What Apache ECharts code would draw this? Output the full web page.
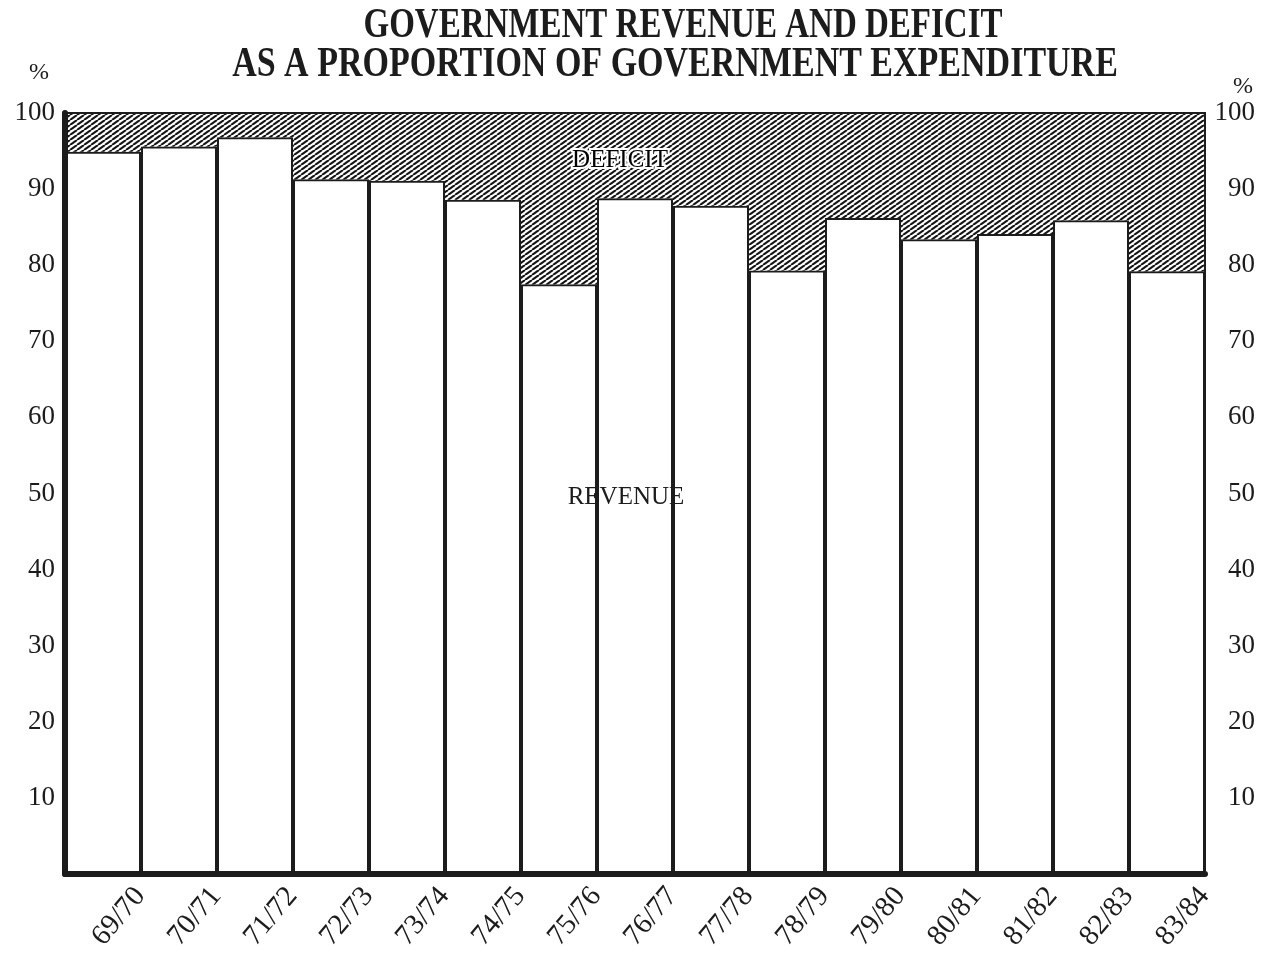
<!DOCTYPE html>
<html><head><meta charset="utf-8">
<script src="https://cdn.jsdelivr.net/npm/echarts@6/dist/echarts.min.js"></script>
<style>html,body{margin:0;padding:0;background:#fff}#c{width:1262px;height:964px}</style>
</head><body><div id="c"></div>
<script>
const years = ['69/70','70/71','71/72','72/73','73/74','74/75','75/76','76/77','77/78','78/79','79/80','80/81','81/82','82/83','83/84'];
const revenue = [94.9, 95.6, 96.8, 91.3, 91.1, 88.6, 77.5, 88.8, 87.8, 79.3, 86.2, 83.4, 84.1, 85.9, 79.2];
const deficit = [5.1, 4.4, 3.2, 8.7, 8.9, 11.4, 22.5, 11.2, 12.2, 20.7, 13.8, 16.6, 15.9, 14.1, 20.8];
const titleLines = ['GOVERNMENT REVENUE AND DEFICIT', 'AS A PROPORTION OF GOVERNMENT EXPENDITURE'];

const INK = '#1c1c1c';
const SERIF = '"Liberation Serif", "DejaVu Serif", serif';

function hatch() {
  const w = 7, h = 5;
  const c = document.createElement('canvas');
  c.width = w; c.height = h;
  const g = c.getContext('2d');
  g.fillStyle = '#ffffff'; g.fillRect(0, 0, w, h);
  g.strokeStyle = '#141414'; g.lineWidth = 2.1;
  for (const o of [-w, 0, w]) { g.beginPath(); g.moveTo(o, h); g.lineTo(o + w, 0); g.stroke(); }
  return c;
}

const chart = echarts.init(document.getElementById('c'), null, {renderer: 'canvas'});
chart.setOption({
  backgroundColor: '#ffffff',
  animation: false,
  grid: {left: 65, right: 57, top: 113, bottom: 90, show: true, borderColor: INK, borderWidth: 2, backgroundColor: 'transparent', z: 3},
  xAxis: {
    type: 'category', data: years, z: 5,
    axisLine: {lineStyle: {color: INK, width: 6}},
    axisTick: {show: false},
    axisLabel: {interval: 0, rotate: 50, margin: -14, verticalAlign: 'top', padding: [34, 0, 0, 0],
      fontFamily: SERIF, fontSize: 29, color: INK}
  },
  yAxis: [{
    type: 'value', min: 0, max: 100, interval: 10, position: 'left', z: 5,
    name: '%', nameLocation: 'end', nameGap: 28,
    nameTextStyle: {fontFamily: SERIF, fontSize: 24, color: INK, align: 'right', padding: [0, 16, 0, 0]},
    axisLine: {show: true, lineStyle: {color: INK, width: 6}},
    axisTick: {show: false}, splitLine: {show: false},
    axisLabel: {showMinLabel: false, margin: 10, fontFamily: SERIF, fontSize: 27, color: INK}
  }, {
    type: 'value', min: 0, max: 100, interval: 10, position: 'right',
    name: '%', nameLocation: 'end', nameGap: 14,
    nameTextStyle: {fontFamily: SERIF, fontSize: 24, color: INK, align: 'left', padding: [0, 0, 0, 28]},
    axisLine: {show: false}, axisTick: {show: false}, splitLine: {show: false},
    axisLabel: {showMinLabel: false, margin: 50, align: 'right', fontFamily: SERIF, fontSize: 27, color: INK}
  }],
  series: [{
    name: 'Revenue', type: 'bar', stack: 'total', data: revenue,
    barCategoryGap: '0%', barWidth: '100%',
    itemStyle: {color: '#ffffff', borderColor: INK, borderWidth: 2}
  }, {
    name: 'Deficit', type: 'bar', stack: 'total', data: deficit,
    barCategoryGap: '0%', barWidth: '100%',
    itemStyle: {color: {image: hatch(), repeat: 'repeat'}, borderWidth: 0}
  }],
  graphic: [
    {type: 'text', x: 683, y: 26, scaleY: 1.25, z: 10,
      style: {text: titleLines[0], font: 'bold 33px ' + SERIF, fill: INK, textAlign: 'center', textVerticalAlign: 'middle'}},
    {type: 'text', x: 675, y: 65, scaleY: 1.25, z: 10,
      style: {text: titleLines[1], font: 'bold 34px ' + SERIF, fill: INK, textAlign: 'center', textVerticalAlign: 'middle'}},
    {type: 'group', z: 10, children: [
      {type: 'text', x: 620, y: 160, z: 10, zlevel: 0,
        style: {text: 'DEFICIT', font: '25px ' + SERIF, fill: '#ffffff', stroke: '#ffffff', lineWidth: 4, textAlign: 'center', textVerticalAlign: 'middle'}},
      {type: 'text', x: 620, y: 160, z: 20, zlevel: 0,
        style: {text: 'DEFICIT', font: '25px ' + SERIF, fill: '#000000', textAlign: 'center', textVerticalAlign: 'middle'}}
    ]},
    {type: 'text', x: 626, y: 497, z: 10,
      style: {text: 'REVENUE', font: '25px ' + SERIF, fill: INK, textAlign: 'center', textVerticalAlign: 'middle'}}
  ]
});
</script>
</body></html>
